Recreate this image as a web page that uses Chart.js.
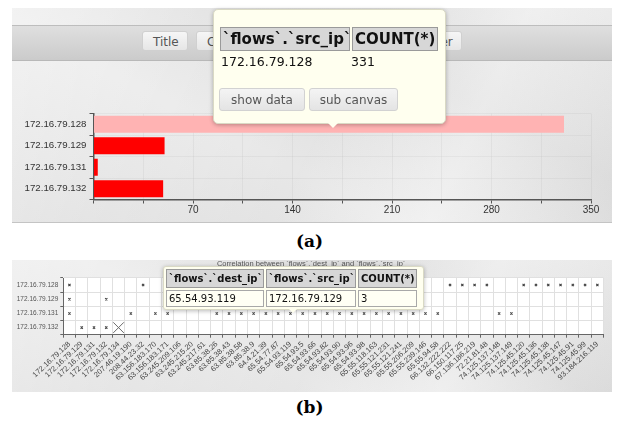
<!DOCTYPE html>
<html><head><meta charset="utf-8">
<script src="https://cdn.jsdelivr.net/npm/chart.js@4.4.1/dist/chart.umd.min.js"></script>
<style>
html,body{margin:0;padding:0;}
body{width:619px;height:424px;background:#fff;position:relative;overflow:hidden;font-family:"DejaVu Sans",sans-serif;}
.paper{position:absolute;background-color:#e6e6e6;background-image:
 linear-gradient(115deg, rgba(255,255,255,.35) 0%, rgba(255,255,255,0) 28%, rgba(0,0,0,.025) 52%, rgba(255,255,255,.3) 74%, rgba(0,0,0,.03) 100%),
 linear-gradient(28deg, rgba(0,0,0,.02) 0%, rgba(255,255,255,.25) 38%, rgba(0,0,0,.02) 68%, rgba(255,255,255,.22) 100%);}
#panelA{left:12px;top:8px;width:600px;height:214px;border-bottom:1px solid #c4c4c4;}
#panelB{left:12px;top:260px;width:600px;height:132px;}
#toolbar{position:absolute;left:12px;top:25px;width:600px;height:34px;background:linear-gradient(#dfdfdf,#cbcbcb);border-top:1px solid #bdbdbd;border-bottom:1px solid #b8b8b8;}
.tbtn{position:absolute;top:31px;height:20px;line-height:20px;font-size:12px;color:#555;background:linear-gradient(#f6f6f6,#e6e6e6);border:1px solid #d0d0d0;border-radius:3px;box-sizing:border-box;padding:0 10px;white-space:nowrap;}
canvas{position:absolute;}
#cA{left:12px;top:60px;}
#cB{left:12px;top:259px;}
.tip{position:absolute;background:#ffffef;border:1px solid #d9d9c4;border-radius:5px;box-shadow:0 1px 4px rgba(0,0,0,.28);}
.tip .ptr{position:absolute;width:0;height:0;border-left:5px solid transparent;border-right:5px solid transparent;border-top:5px solid #ffffef;}
.hc{position:absolute;background:#d7d7d7;border:1px solid #9a9a9a;box-sizing:border-box;font-weight:bold;color:#111;white-space:nowrap;}
.dc{position:absolute;white-space:nowrap;color:#111;}
.sbtn{position:absolute;height:23px;line-height:22px;font-size:12px;color:#555;background:linear-gradient(#f4f4f4,#e4e4e4);border:1px solid #d2d2d2;border-radius:3px;box-sizing:border-box;text-align:center;}
.cap{position:absolute;width:619px;left:0;text-align:center;font-family:"DejaVu Serif","Liberation Serif",serif;font-weight:bold;font-size:17px;color:#000;}
</style></head><body>
<div class="paper" id="panelA"></div>
<div id="toolbar"></div>
<div class="tbtn" style="left:142px;width:46px;">Title</div>
<div class="tbtn" style="left:196px;width:80px;">Chart</div>
<div class="tbtn" style="left:412px;width:50px;">Filter</div>
<canvas id="cA" width="600" height="162" style="width:600px;height:162px"></canvas>
<div class="tip" style="left:213px;top:9px;width:231px;height:113px;">
  <div class="hc" style="left:6px;top:17px;width:130px;height:24px;line-height:22px;font-size:15px;padding-left:2px;">`flows`.`src_ip`</div>
  <div class="hc" style="left:138px;top:17px;width:86px;height:24px;line-height:22px;font-size:15px;padding-left:2px;">COUNT(*)</div>
  <div class="dc" style="left:7px;top:43px;font-size:12.5px;line-height:18px;">172.16.79.128</div>
  <div class="dc" style="left:137px;top:43px;font-size:12.5px;line-height:18px;">331</div>
  <div class="sbtn" style="left:5px;top:78px;width:86px;">show data</div>
  <div class="sbtn" style="left:95px;top:78px;width:89px;">sub canvas</div>
  <div class="ptr" style="left:114px;top:113px;"></div>
</div>
<div class="cap" style="top:231px;">(a)</div>

<div class="paper" id="panelB"></div>
<canvas id="cB" width="600" height="133" style="width:600px;height:133px"></canvas>
<div class="tip" style="left:163px;top:266px;width:259px;height:42px;border-radius:3px;">
  <div class="hc" style="left:2px;top:2px;width:98px;height:19px;line-height:17px;font-size:10px;padding-left:2px;">`flows`.`dest_ip`</div>
  <div class="hc" style="left:102px;top:2px;width:90px;height:19px;line-height:17px;font-size:10px;padding-left:2px;">`flows`.`src_ip`</div>
  <div class="hc" style="left:194px;top:2px;width:59px;height:19px;line-height:17px;font-size:10px;padding-left:2px;">COUNT(*)</div>
  <div class="dc" style="left:2px;top:23px;width:98px;height:17px;line-height:15px;font-size:10px;padding-left:2px;box-sizing:border-box;border:1px solid #a8a8a8;background:#fffff4;">65.54.93.119</div>
  <div class="dc" style="left:102px;top:23px;width:90px;height:17px;line-height:15px;font-size:10px;padding-left:2px;box-sizing:border-box;border:1px solid #a8a8a8;background:#fffff4;">172.16.79.129</div>
  <div class="dc" style="left:194px;top:23px;width:59px;height:17px;line-height:15px;font-size:10px;padding-left:2px;box-sizing:border-box;border:1px solid #a8a8a8;background:#fffff4;">3</div>
  <div class="ptr" style="left:125px;top:42px;border-left-width:4px;border-right-width:4px;border-top-width:4px;"></div>
</div>
<div class="cap" style="top:397px;">(b)</div>

<script>
// ---------- data: panel (a) ----------
const srcCategories = ['172.16.79.128', '172.16.79.129', '172.16.79.131', '172.16.79.132'];
const srcCounts = [331, 50, 3, 49];
const countAxisMax = 350;
const countTickStep = 35;
const countLabelStep = 70;

// ---------- data: panel (b) ----------
const destIps = [
  '172.16.79.128','172.16.79.129','172.16.79.131','172.16.79.132','172.16.79.134',
  '207.46.19.190','208.44.23.32','63.156.183.170','63.156.183.171','63.245.209.106',
  '63.245.215.20','63.245.217.61','63.85.38.26','63.85.38.43','63.85.38.58',
  '63.85.38.9','64.4.21.39','65.54.77.87','65.54.93.119','65.54.93.5',
  '65.54.93.66','65.54.93.82','65.54.93.90','65.54.93.96','65.54.93.98',
  '65.55.118.163','65.55.121.231','65.55.121.241','65.55.206.209','65.55.239.146',
  '65.55.94.58','66.132.222.222','66.150.117.25','67.136.186.219','72.21.81.48',
  '74.125.137.148','74.125.137.149','74.125.45.120','74.125.45.136','74.125.45.138',
  '74.125.45.147','74.125.45.91','74.125.45.99','93.184.216.119'
];
const destsOf128 = ['172.16.79.128','208.44.23.32','66.132.222.222','66.150.117.25','67.136.186.219','72.21.81.48',
  '74.125.45.120','74.125.45.136','74.125.45.138','74.125.45.147','74.125.45.91','74.125.45.99','93.184.216.119'];
const destsOf129 = ['172.16.79.128','172.16.79.132','65.54.93.119'];
const destsOf131 = ['172.16.79.128','207.46.19.190','63.156.183.170','63.156.183.171',
  '63.85.38.26','63.85.38.43','63.85.38.58','63.85.38.9','64.4.21.39','65.54.77.87','65.54.93.119',
  '65.54.93.5','65.54.93.66','65.54.93.82','65.54.93.90','65.54.93.96','65.54.93.98',
  '65.55.118.163','65.55.121.231','65.55.121.241','65.55.206.209','65.55.239.146','65.55.94.58',
  '74.125.137.148','74.125.137.149'];
const destsOf132 = ['172.16.79.129','172.16.79.131','172.16.79.132'];
const selectedDestOf132 = ['172.16.79.134'];

Chart.defaults.font.family = '"Liberation Sans", Arial, sans-serif';
Chart.defaults.animation = false;

// ---------- chart (a) ----------
new Chart(document.getElementById('cA'), {
  type: 'bar',
  data: {
    labels: srcCategories,
    datasets: [{
      data: srcCounts,
      backgroundColor: ctx => ctx.dataIndex === 0 ? '#ffb3b3' : '#ff0000',
      borderWidth: 0,
      barPercentage: 0.8,
      categoryPercentage: 1.0
    }]
  },
  options: {
    responsive: false,
    indexAxis: 'y',
    layout: { padding: { top: 53.5, right: 21, left: 0, bottom: 0 } },
    plugins: { legend: { display: false }, tooltip: { enabled: false } },
    scales: {
      x: {
        min: 0, max: countAxisMax,
        afterFit: s => { s.height = 22.5; },
        ticks: {
          stepSize: countTickStep,
          color: '#333', font: { size: 10 }, padding: 1,
          callback: v => (v % countLabelStep === 0 && v !== 0) ? String(v) : ''
        },
        grid: { color: 'rgba(0,0,0,0.04)', tickColor: '#555', tickLength: 4 },
        border: { color: '#555', width: 1.5 }
      },
      y: {
        afterFit: s => { s.width = 81.5; },
        ticks: { color: '#333', font: { size: 9.7 }, padding: 3 },
        grid: { color: 'rgba(0,0,0,0.035)', tickColor: '#555', tickLength: 4 },
        border: { color: '#555', width: 1.5 }
      }
    }
  }
});

// ---------- chart (b) ----------
function pairs(dests, src) { return dests.map(d => ({ x: d, y: src })); }
const whiteArea = {
  id: 'whiteArea',
  beforeDraw(chart) {
    const a = chart.chartArea, c = chart.ctx;
    c.save(); c.fillStyle = '#ffffff'; c.fillRect(a.left, a.top, a.right - a.left, a.bottom - a.top); c.restore();
  }
};
new Chart(document.getElementById('cB'), {
  type: 'scatter',
  data: {
    datasets: [
      {
        data: [].concat(
          pairs(destsOf128, srcCategories[0]),
          pairs(destsOf129, srcCategories[1]),
          pairs(destsOf131, srcCategories[2]),
          pairs(destsOf132, srcCategories[3])
        ),
        pointStyle: 'crossRot', radius: 1.6, borderWidth: 1.1,
        borderColor: '#444', backgroundColor: '#444'
      },
      {
        data: pairs(selectedDestOf132, srcCategories[3]),
        pointStyle: 'crossRot', radius: 7.5, borderWidth: 1,
        borderColor: '#6a6a6a', backgroundColor: '#6a6a6a'
      }
    ]
  },
  plugins: [whiteArea],
  options: {
    responsive: false,
    layout: { padding: { top: 0, right: 1.7, left: 0, bottom: 0 } },
    plugins: {
      legend: { display: false }, tooltip: { enabled: false },
      title: {
        display: true,
        text: 'Correlation between `flows`.`dest_ip` and `flows`.`src_ip`',
        color: '#555', font: { size: 7.5, weight: 'normal' },
        padding: { top: 0, bottom: 10 }
      }
    },
    scales: {
      x: {
        type: 'category', labels: destIps, offset: true,
        afterFit: s => { s.height = 57.3; },
        ticks: { autoSkip: false, minRotation: 43, maxRotation: 43, color: '#444', font: { size: 7.6 }, padding: 2 },
        grid: { offset: true, color: '#e0e0e0', tickColor: '#666', tickLength: 3 },
        border: { color: '#666', width: 1 }
      },
      y: {
        type: 'category', labels: srcCategories, offset: true,
        afterFit: s => { s.width = 51.3; },
        ticks: { color: '#555', font: { size: 6.5 }, padding: 2 },
        grid: { offset: true, color: '#e0e0e0', tickColor: '#666', tickLength: 3 },
        border: { color: '#666', width: 1 }
      }
    }
  }
});
</script>
</body></html>
